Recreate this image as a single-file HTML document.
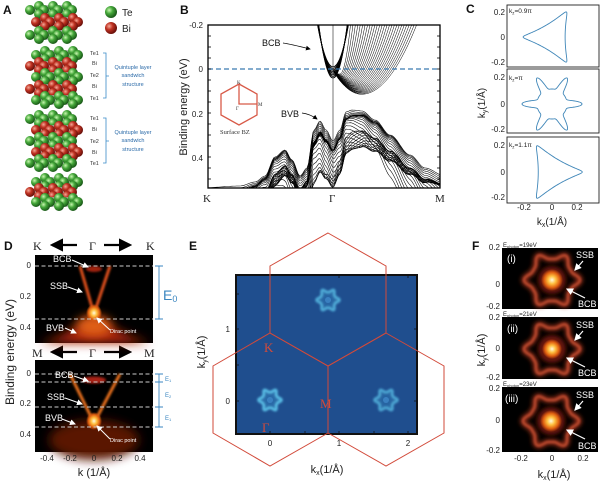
<!DOCTYPE html>
<html><head><meta charset="utf-8"><style>
html,body{margin:0;padding:0;background:#fff;}
svg{display:block;font-family:"Liberation Sans",sans-serif;}
.t{font-size:8px;fill:#222}
.s{font-family:"Liberation Serif",serif}
.pl{font-size:12px;font-weight:bold;fill:#111}
</style></head><body>
<svg id="S" width="600" height="482" viewBox="0 0 600 482" xmlns="http://www.w3.org/2000/svg">
<defs>
<radialGradient id="gG" cx="35%" cy="35%" r="65%"><stop offset="0" stop-color="#c8f5b0"/><stop offset=".45" stop-color="#45a83a"/><stop offset="1" stop-color="#1a5a18"/></radialGradient>
<radialGradient id="gR" cx="35%" cy="35%" r="65%"><stop offset="0" stop-color="#f5a898"/><stop offset=".45" stop-color="#c03222"/><stop offset="1" stop-color="#6a100a"/></radialGradient>
<filter id="b1" x="-50%" y="-50%" width="200%" height="200%"><feGaussianBlur stdDeviation="1"/></filter>
<filter id="b2" x="-50%" y="-50%" width="200%" height="200%"><feGaussianBlur stdDeviation="2.5"/></filter>
<filter id="b3" x="-50%" y="-50%" width="200%" height="200%"><feGaussianBlur stdDeviation="5"/></filter>
<radialGradient id="hot" cx="50%" cy="50%" r="50%"><stop offset="0" stop-color="#fffbe0"/><stop offset=".35" stop-color="#ffc040"/><stop offset=".7" stop-color="#e06010"/><stop offset="1" stop-color="#e06010" stop-opacity="0"/></radialGradient>
<marker id="aw" markerWidth="6" markerHeight="6" refX="5" refY="3" orient="auto"><path d="M0,0 L6,3 L0,6z" fill="#fff"/></marker>
<marker id="ak" markerWidth="6" markerHeight="6" refX="5" refY="3" orient="auto"><path d="M0,0 L6,3 L0,6z" fill="#000"/></marker>
<clipPath id="cB"><rect x="208" y="25" width="232" height="163"/></clipPath>
</defs>

<text class="pl" x="3" y="14">A</text>
<text class="pl" x="180" y="14">B</text>
<text class="pl" x="466" y="13">C</text>
<text class="pl" x="4" y="250">D</text>
<text class="pl" x="189" y="250">E</text>
<text class="pl" x="472" y="250">F</text>

<!-- Panel A -->
<g id="A"></g>
<circle cx="111" cy="12" r="6" fill="url(#gG)"/><text x="122" y="16" font-size="10" fill="#222">Te</text>
<circle cx="111" cy="28" r="6" fill="url(#gR)"/><text x="122" y="32" font-size="10" fill="#222">Bi</text>
<g font-size="5.5" fill="#333">
<text x="90" y="55">Te1</text><text x="92" y="65">Bi</text><text x="90" y="77">Te2</text><text x="92" y="88">Bi</text><text x="90" y="100">Te1</text>
<text x="90" y="120">Te1</text><text x="92" y="131">Bi</text><text x="90" y="143">Te2</text><text x="92" y="154">Bi</text><text x="90" y="165">Te1</text>
</g>
<g stroke="#3a8ac8" fill="none" stroke-width="0.8">
<path d="M103,53 H106 V98 H103 M106,76 H109"/><path d="M103,118 H106 V163 H103 M106,141 H109"/>
</g>
<g font-size="5.5" fill="#2a6aa8" text-anchor="middle">
<text x="133" y="69">Quintuple layer</text><text x="133" y="77">sandwich</text><text x="133" y="86">structure</text>
<text x="133" y="134">Quintuple layer</text><text x="133" y="142">sandwich</text><text x="133" y="151">structure</text>
</g>

<!-- Panel B -->
<text transform="translate(187,107) rotate(-90)" text-anchor="middle" font-size="11" fill="#222">Binding energy (eV)</text>
<g class="t" text-anchor="end" font-size="9"><text x="203" y="28">-0.2</text><text x="203" y="72">0</text><text x="203" y="117">0.2</text><text x="203" y="161">0.4</text></g>
<g id="B" clip-path="url(#cB)"></g>
<line x1="208" y1="69" x2="440" y2="69" stroke="#3a7ab0" stroke-width="1.2" stroke-dasharray="5,3"/>
<line x1="333" y1="25" x2="333" y2="188" stroke="#555" stroke-width="0.8"/>
<rect x="208" y="25" width="232" height="163" fill="none" stroke="#000" stroke-width="1.3"/>
<g id="Bt" stroke="#000" stroke-width="0.8"></g>
<g class="s" font-size="11" fill="#222"><text x="203" y="202">K</text><text x="329" y="202">Γ</text><text x="435" y="202">M</text></g>
<rect x="261" y="37" width="22" height="11" fill="#fff"/>
<text x="262" y="46" font-size="9" fill="#111">BCB</text><path d="M283,43 Q290,44 310,49" stroke="#000" fill="none" stroke-width="0.8" marker-end="url(#ak)"/>
<text x="281" y="117" font-size="9" fill="#111">BVB</text><path d="M302,113 Q310,114 317,119" stroke="#000" fill="none" stroke-width="0.8" marker-end="url(#ak)"/>
<polygon points="239,84 257,94 257,115 239,125 221,115 221,94" fill="none" stroke="#d85a48" stroke-width="1.3"/>
<path d="M239,84 V104 H257" stroke="#d85a48" stroke-width="1.3" fill="none"/>
<g class="s" font-size="5" fill="#333"><text x="237" y="84">K</text><text x="236" y="110">Γ</text><text x="258" y="106">M</text></g>
<text class="s" x="220" y="134" font-size="6.5" fill="#333">Surface BZ</text>

<!-- Panel C -->
<g fill="#fff" stroke="#222" stroke-width="0.9">
<rect x="507" y="5" width="92" height="62"/><rect x="507" y="69" width="92" height="64"/><rect x="507" y="137" width="92" height="66"/>
</g>
<g id="C" fill="none" stroke="#3f86b8" stroke-width="0.9"></g>
<g font-size="6.5" fill="#222"><text x="509" y="13">k<tspan font-size="4.5" dy="1.5">z</tspan><tspan dy="-1.5">=0.9π</tspan></text><text x="509" y="80">k<tspan font-size="4.5" dy="1.5">z</tspan><tspan dy="-1.5">=π</tspan></text><text x="509" y="147">k<tspan font-size="4.5" dy="1.5">z</tspan><tspan dy="-1.5">=1.1π</tspan></text></g>
<g class="t" text-anchor="end"><text x="505" y="15">0.2</text><text x="505" y="40">0</text><text x="505" y="65">-0.2</text><text x="505" y="80">0.2</text><text x="505" y="107">0</text><text x="505" y="132">-0.2</text><text x="505" y="148">0.2</text><text x="505" y="175">0</text><text x="505" y="200">-0.2</text></g>
<g class="t" text-anchor="middle"><text x="524" y="210">-0.2</text><text x="552" y="210">0</text><text x="577" y="210">0.2</text></g>
<text x="552" y="225" text-anchor="middle" font-size="10" fill="#222">k<tspan font-size="7" dy="2">x</tspan><tspan dy="-2">(1/Å)</tspan></text>
<text transform="translate(485,103) rotate(-90)" text-anchor="middle" font-size="10" fill="#222">k<tspan font-size="7" dy="2">y</tspan><tspan dy="-2">(1/Å)</tspan></text>

<!-- Panel D -->
<g class="s" font-size="12" fill="#222"><text x="33" y="250">K</text><text x="89" y="250">Γ</text><text x="146" y="250">K</text>
<text x="32" y="357">M</text><text x="89" y="357">Γ</text><text x="144" y="357">M</text></g>
<g stroke="#000" stroke-width="2.2" fill="none"><path d="M77,245 H52" marker-end="url(#ak)"/><path d="M104,245 H130" marker-end="url(#ak)"/><path d="M77,352 H52" marker-end="url(#ak)"/><path d="M104,352 H130" marker-end="url(#ak)"/></g>
<rect x="35" y="255" width="118" height="88" fill="#000"/>
<polygon points="40,343 60,336 78,326 94,316 110,326 130,336 150,343" fill="#b02810" filter="url(#b3)"/>
<ellipse cx="94" cy="326" rx="18" ry="10" fill="#e06018" filter="url(#b3)"/>
<ellipse cx="94" cy="269" rx="8" ry="3" fill="#a02010" filter="url(#b1)"/>
<path d="M80,266 L94,314 L110,266" stroke="#e0501c" stroke-width="3" fill="none" filter="url(#b1)"/>
<ellipse cx="94" cy="313" rx="8" ry="9" fill="url(#hot)"/>
<rect x="35" y="360" width="118" height="92" fill="#000"/>
<ellipse cx="94" cy="440" rx="45" ry="20" fill="#5a1206" filter="url(#b3)"/>
<ellipse cx="94" cy="380" rx="12" ry="3.5" fill="#a82412" filter="url(#b1)"/>
<path d="M70,374 L94,423 L120,374" stroke="#e8701c" stroke-width="3" fill="none" filter="url(#b1)"/>
<ellipse cx="94" cy="421" rx="8" ry="9" fill="url(#hot)"/>
<g stroke="#ccc" stroke-width="0.9" stroke-dasharray="4,2.5"><line x1="35" y1="266" x2="153" y2="266"/><line x1="35" y1="319" x2="153" y2="319"/><line x1="35" y1="374" x2="153" y2="374"/><line x1="35" y1="382" x2="153" y2="382"/><line x1="35" y1="407" x2="153" y2="407"/><line x1="35" y1="427" x2="153" y2="427"/></g>
<g fill="#fff" font-size="9"><text x="53" y="262">BCB</text><text x="50" y="289">SSB</text><text x="46" y="331">BVB</text><text x="55" y="378">BCB</text><text x="47" y="400">SSB</text><text x="45" y="421">BVB</text></g>
<g fill="#fff" font-size="5.5"><text x="110" y="333">Dirac point</text><text x="110" y="442">Dirac point</text></g>
<g stroke="#fff" stroke-width="1" fill="none"><path d="M72,260 L88,267" marker-end="url(#aw)"/><path d="M68,287 L82,292" marker-end="url(#aw)"/><path d="M65,328 L76,333" marker-end="url(#aw)"/><path d="M110,330 L97,318" marker-end="url(#aw)"/><path d="M74,376 L88,381" marker-end="url(#aw)"/><path d="M65,398 L82,404" marker-end="url(#aw)"/><path d="M62,419 L75,424" marker-end="url(#aw)"/><path d="M110,439 L97,426" marker-end="url(#aw)"/></g>
<g class="t" text-anchor="end"><text x="31" y="268">0</text><text x="31" y="299">0.2</text><text x="31" y="330">0.4</text><text x="31" y="376">0</text><text x="31" y="406">0.2</text><text x="31" y="437">0.4</text></g>
<g class="t" text-anchor="middle"><text x="47" y="461">-0.4</text><text x="70" y="461">-0.2</text><text x="94" y="461">0</text><text x="117" y="461">0.2</text><text x="140" y="461">0.4</text></g>
<text x="94" y="476" text-anchor="middle" font-size="11" fill="#222">k (1/Å)</text>
<text transform="translate(14,352) rotate(-90)" text-anchor="middle" font-size="12" fill="#222">Binding energy (eV)</text>
<g stroke="#3a86c0" stroke-width="0.9" fill="none"><path d="M155,266 H163 M159,266 V319 M155,319 H163"/><path d="M155,374 H163 M159,374 V427 M155,382 H163 M155,407 H163 M155,427 H163"/></g>
<text x="163" y="300" font-size="14" fill="#3a86c0">E<tspan font-size="9" dy="2">0</tspan></text>
<g font-size="6" fill="#3a86c0"><text x="165" y="381">E<tspan font-size="4" dy="1">1</tspan></text><text x="165" y="397">E<tspan font-size="4" dy="1">2</tspan></text><text x="165" y="420">E<tspan font-size="4" dy="1">1</tspan></text></g>

<!-- Panel E -->
<rect x="236" y="275" width="181" height="159" fill="#1f4e8e"/>
<g id="E"></g>
<rect x="236" y="275" width="181" height="159" fill="none" stroke="#111" stroke-width="2"/>
<g stroke="#111" stroke-width="0.8"><path d="M270,434 v-3 M305,434 v-3 M339,434 v-3 M374,434 v-3 M408,434 v-3 M236,401 h3 M236,365 h3 M236,329 h3 M236,294 h3 M270,275 v3 M339,275 v3 M408,275 v3 M417,401 h-3 M417,329 h-3"/></g>
<g fill="none" stroke="#d24a3a" stroke-width="1">
<polygon points="270,333 328,366 328,433 270,466 213,433 213,366"/>
<polygon points="386,333 444,366 444,433 386,466 328,433 328,366"/>
<polygon points="328,233 386,266 386,333 328,366 270,333 270,266"/>
</g>
<g class="s" font-size="13" fill="#d24a3a"><text x="264" y="352">K</text><text x="320" y="408">M</text><text x="262" y="432">Γ</text></g>
<g class="t" font-size="9" text-anchor="middle"><text x="270" y="446">0</text><text x="339" y="446">1</text><text x="408" y="446">2</text></g>
<g class="t" font-size="9" text-anchor="end"><text x="230" y="332">1</text><text x="230" y="404">0</text></g>
<text x="327" y="473" text-anchor="middle" font-size="11" fill="#222">k<tspan font-size="7" dy="2">x</tspan><tspan dy="-2">(1/Å)</tspan></text>
<text transform="translate(205,352) rotate(-90)" text-anchor="middle" font-size="11" fill="#222">k<tspan font-size="7" dy="2">y</tspan><tspan dy="-2">(1/Å)</tspan></text>

<!-- Panel F -->
<rect x="502" y="248" width="96" height="61" fill="#000"/>
<rect x="502" y="317" width="96" height="62" fill="#000"/>
<rect x="502" y="387" width="96" height="65" fill="#000"/>
<g id="F"></g>
<g fill="#fff" font-size="10"><text x="507" y="262">(i)</text><text x="507" y="332">(ii)</text><text x="505" y="402">(iii)</text></g>
<g fill="#fff" font-size="9"><text x="576" y="258">SSB</text><text x="578" y="307">BCB</text><text x="576" y="328">SSB</text><text x="578" y="376">BCB</text><text x="576" y="398">SSB</text><text x="578" y="449">BCB</text></g>
<g stroke="#fff" stroke-width="1.2" fill="none"><path d="M583,261 L575,270" marker-end="url(#aw)"/><path d="M585,298 L567,289" marker-end="url(#aw)"/><path d="M583,331 L575,340" marker-end="url(#aw)"/><path d="M585,367 L567,358" marker-end="url(#aw)"/><path d="M583,401 L575,410" marker-end="url(#aw)"/><path d="M585,439 L567,430" marker-end="url(#aw)"/></g>
<g font-size="6" fill="#222"><text x="503" y="247">E<tspan font-size="4" dy="1">photon</tspan><tspan dy="-1">=19eV</tspan></text><text x="503" y="316">E<tspan font-size="4" dy="1">photon</tspan><tspan dy="-1">=21eV</tspan></text><text x="503" y="386">E<tspan font-size="4" dy="1">photon</tspan><tspan dy="-1">=23eV</tspan></text></g>
<g class="t" font-size="7" text-anchor="end"><text x="500" y="250">0.2</text><text x="500" y="287">0</text><text x="500" y="309">-0.2</text><text x="500" y="320">0.2</text><text x="500" y="351">0</text><text x="500" y="380">-0.2</text><text x="500" y="391">0.2</text><text x="500" y="423">0</text><text x="500" y="453">-0.2</text></g>
<g class="t" font-size="7" text-anchor="middle"><text x="521" y="461">-0.2</text><text x="552" y="461">0</text><text x="583" y="461">0.2</text></g>
<text x="554" y="478" text-anchor="middle" font-size="11" fill="#222">k<tspan font-size="7" dy="2">x</tspan><tspan dy="-2">(1/Å)</tspan></text>
<text transform="translate(485,350) rotate(-90)" text-anchor="middle" font-size="11" fill="#222">k<tspan font-size="7" dy="2">y</tspan><tspan dy="-2">(1/Å)</tspan></text>
</svg>
<script>
(function(){
var NS="http://www.w3.org/2000/svg";
function el(p,tag,at){var e=document.createElementNS(NS,tag);for(var k in at)e.setAttribute(k,at[k]);p.appendChild(e);return e;}
function $(id){return document.getElementById(id);}
var A=$("A");
var layers=[[10,"G"],[22,"R"],[35,"G"],[55,"G"],[66,"R"],[77,"G"],[89,"R"],[100,"G"],[119,"G"],[130,"R"],[141,"G"],[152,"R"],[163,"G"],[182,"G"],[192,"R"],[202,"G"]];
layers.forEach(function(l,idx){
  var cy=l[0],off=(idx%2?4:-2);
  var pts=[];
  [44,58,72].forEach(function(x){pts.push([x+off-3,cy-4]);});
  [32,46,60,74].forEach(function(x){pts.push([x+off,cy]);});
  [41,55,69].forEach(function(x){pts.push([x+off,cy+4]);});
  for(var i=0;i<pts.length;i++)for(var j=i+1;j<pts.length;j++){var dx=pts[i][0]-pts[j][0],dy=pts[i][1]-pts[j][1];if(dx*dx+dy*dy<200)el(A,"line",{x1:pts[i][0],y1:pts[i][1],x2:pts[j][0],y2:pts[j][1],stroke:"#aaa","stroke-width":1.6});}
  pts.forEach(function(p){el(A,"circle",{cx:p[0],cy:p[1],r:5,fill:l[1]=="G"?"url(#gG)":"url(#gR)"});});
});
var B=$("B");
var env=[[200,188],[240,186],[255,182],[265,176],[275,157],[285,150],[292,160],[300,176],[307,168],[314,130],[320,121],[326,130],[333,141],[340,130],[346,112],[352,110],[362,111],[375,120],[390,135],[410,155],[425,168],[445,176]];
function envAt(x){for(var i=0;i<env.length-1;i++){if(x>=env[i][0]&&x<=env[i+1][0]){var t=(x-env[i][0])/(env[i+1][0]-env[i][0]);t=t*t*(3-2*t);return env[i][1]+t*(env[i+1][1]-env[i][1]);}}return 188;}
for(var i=0;i<30;i++){var d="";for(var x=205;x<=442;x+=1.5){var y=envAt(x)+i*(1.3+0.6*Math.sin(x/17+i*0.3));if(y>190)y=190;d+=(d?"L":"M")+x.toFixed(1)+","+y.toFixed(1);}el(B,"path",{d:d,fill:"none",stroke:"#000","stroke-width":0.55});}
for(var i=0;i<8;i++){var a=0.26-i*0.012,d="";for(var x=300;x<=366;x+=1){var y=78-i*1.6-a*(x-333)*(x-333);d+=(d?"L":"M")+x+","+y.toFixed(1);}el(B,"path",{d:d,fill:"none",stroke:"#000","stroke-width":0.9});}
for(var i=0;i<28;i++){var xm=340+i*0.8,ym=74+i*0.75,w=11+i*1.7,a=(ym-20)/(w*w),b=i?(ym-68)/Math.pow(xm-333,2)*0.9:0,d="";
 for(var x=333;x<=xm+w+2;x+=1){var y=x<xm?ym-b*(x-xm)*(x-xm):ym-a*(x-xm)*(x-xm);d+=(d?"L":"M")+x+","+y.toFixed(1);}
 el(B,"path",{d:d,fill:"none",stroke:"#000","stroke-width":0.5});}
var Bt=$("Bt");
for(var y=25;y<=188;y+=11){el(Bt,"line",{x1:208,y1:y,x2:211,y2:y});el(Bt,"line",{x1:440,y1:y,x2:437,y2:y});}
var C=$("C");
function path(f,n){var d="";for(var k=0;k<=n;k++){var t=2*Math.PI*k/n,p=f(t);d+=(k?"L":"M")+p[0].toFixed(2)+","+p[1].toFixed(2);}return d+"Z";}
function deltoid(cx,cy,s,rot){return function(t){var x=2*Math.cos(t)+0.75*Math.cos(2*t),y=2*Math.sin(t)-0.75*Math.sin(2*t);var c=Math.cos(rot),sn=Math.sin(rot);return [cx+s*(x*c-y*sn),cy+s*(x*sn+y*c)];};}
el(C,"path",{d:path(deltoid(552,37,10.5,Math.PI),200)});
el(C,"path",{d:path(deltoid(552,172,11,0),200)});
el(C,"path",{d:path(function(t){var r=15+15*Math.pow((1+Math.cos(6*t))/2,4);return [552+r*Math.cos(t),104+r*Math.sin(t)];},400)});
var E=$("E");
[[270,400,1],[386,400,0.8],[328,300,0.85]].forEach(function(s){
  var f=function(t){var r=8+3.5*Math.pow((1+Math.cos(6*t))/2,2);return [s[0]+r*Math.cos(t),s[1]+r*Math.sin(t)];};
  el(E,"path",{d:path(f,200),fill:"#2c6aa8",stroke:"#5ac0e8","stroke-width":2.6,opacity:s[2],filter:"url(#b1)"});
  el(E,"circle",{cx:s[0],cy:s[1],r:3,fill:"#3a80c0"});
});
var F=$("F");
[[552,280,8],[552,349,7],[551,421,8]].forEach(function(s){
  var f=function(t){var r=21+7*Math.pow((1+Math.cos(6*t))/2,2);return [s[0]+r*Math.cos(t),s[1]+r*Math.sin(t)];};
  el(F,"path",{d:path(f,200),fill:"none",stroke:"#a8341c","stroke-width":5,filter:"url(#b2)"});
  el(F,"path",{d:path(f,200),fill:"none",stroke:"#d0583a","stroke-width":2,filter:"url(#b1)",opacity:0.8});
  el(F,"circle",{cx:s[0],cy:s[1],r:14,fill:"#6a1808",filter:"url(#b2)"});
  el(F,"circle",{cx:s[0],cy:s[1],r:s[2]+3,fill:"url(#hot)"});
});
})();
</script>
</body></html>
